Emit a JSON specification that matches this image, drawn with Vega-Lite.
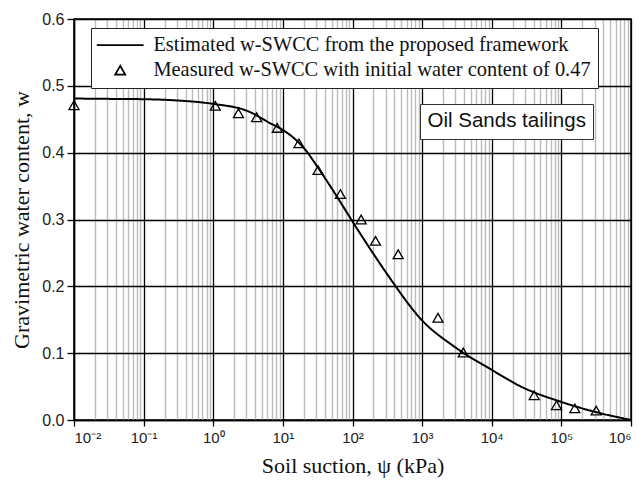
{
  "$schema": "https://vega.github.io/schema/vega-lite/v6.json",
  "width": 557,
  "height": 401,
  "autosize": {"type": "none"},
  "padding": {"left": 74, "top": 19, "right": 10, "bottom": 66},
  "background": "white",
  "config": {
    "view": {"stroke": "black", "strokeWidth": 1.5},
    "axis": {"labelColor": "#222222", "titleColor": "#111111", "tickColor": "black", "domainColor": "black"}
  },
  "datasets": {
    "curve": [
      {"psi": 0.01, "w": 0.481, "sample": "Oil Sands tailings"},
      {"psi": 0.0316, "w": 0.4805, "sample": "Oil Sands tailings"},
      {"psi": 0.1, "w": 0.480, "sample": "Oil Sands tailings"},
      {"psi": 0.316, "w": 0.478, "sample": "Oil Sands tailings"},
      {"psi": 1, "w": 0.473, "sample": "Oil Sands tailings"},
      {"psi": 3.16, "w": 0.462, "sample": "Oil Sands tailings"},
      {"psi": 6.6, "w": 0.444, "sample": "Oil Sands tailings"},
      {"psi": 10, "w": 0.434, "sample": "Oil Sands tailings"},
      {"psi": 20, "w": 0.407, "sample": "Oil Sands tailings"},
      {"psi": 34.7, "w": 0.372, "sample": "Oil Sands tailings"},
      {"psi": 60, "w": 0.334, "sample": "Oil Sands tailings"},
      {"psi": 100, "w": 0.297, "sample": "Oil Sands tailings"},
      {"psi": 182, "w": 0.255, "sample": "Oil Sands tailings"},
      {"psi": 316, "w": 0.218, "sample": "Oil Sands tailings"},
      {"psi": 1000, "w": 0.149, "sample": "Oil Sands tailings"},
      {"psi": 2880, "w": 0.110, "sample": "Oil Sands tailings"},
      {"psi": 10000, "w": 0.075, "sample": "Oil Sands tailings"},
      {"psi": 26300, "w": 0.050, "sample": "Oil Sands tailings"},
      {"psi": 100000, "w": 0.027, "sample": "Oil Sands tailings"},
      {"psi": 240000, "w": 0.015, "sample": "Oil Sands tailings"},
      {"psi": 1000000, "w": 0.0, "sample": "Oil Sands tailings"}
    ],
    "measured": [
      {"psi": 0.01, "w": 0.471, "series": "Measured w-SWCC with initial water content of 0.47"},
      {"psi": 1.07, "w": 0.470, "series": "Measured w-SWCC with initial water content of 0.47"},
      {"psi": 2.3, "w": 0.459, "series": "Measured w-SWCC with initial water content of 0.47"},
      {"psi": 4.2, "w": 0.453, "series": "Measured w-SWCC with initial water content of 0.47"},
      {"psi": 8.3, "w": 0.437, "series": "Measured w-SWCC with initial water content of 0.47"},
      {"psi": 17, "w": 0.414, "series": "Measured w-SWCC with initial water content of 0.47"},
      {"psi": 32, "w": 0.374, "series": "Measured w-SWCC with initial water content of 0.47"},
      {"psi": 67, "w": 0.338, "series": "Measured w-SWCC with initial water content of 0.47"},
      {"psi": 133, "w": 0.300, "series": "Measured w-SWCC with initial water content of 0.47"},
      {"psi": 214, "w": 0.268, "series": "Measured w-SWCC with initial water content of 0.47"},
      {"psi": 453, "w": 0.248, "series": "Measured w-SWCC with initial water content of 0.47"},
      {"psi": 1690, "w": 0.153, "series": "Measured w-SWCC with initial water content of 0.47"},
      {"psi": 3900, "w": 0.101, "series": "Measured w-SWCC with initial water content of 0.47"},
      {"psi": 40700, "w": 0.037, "series": "Measured w-SWCC with initial water content of 0.47"},
      {"psi": 85000, "w": 0.022, "series": "Measured w-SWCC with initial water content of 0.47"},
      {"psi": 156000, "w": 0.0175, "series": "Measured w-SWCC with initial water content of 0.47"},
      {"psi": 316000, "w": 0.014, "series": "Measured w-SWCC with initial water content of 0.47"}
    ]
  },
  "layer": [
    {
      "data": {"name": "curve"},
      "mark": {"type": "line", "color": "black", "strokeWidth": 2, "interpolate": "monotone"},
      "encoding": {
        "x": {
          "field": "psi", "type": "quantitative",
          "scale": {"type": "log", "domain": [0.01, 1000000], "nice": false},
          "axis": {
            "orient": "bottom",
            "values": [0.02,0.03,0.04,0.05,0.06,0.07,0.08,0.09,0.2,0.3,0.4,0.5,0.6,0.7,0.8,0.9,2,3,4,5,6,7,8,9,20,30,40,50,60,70,80,90,200,300,400,500,600,700,800,900,2000,3000,4000,5000,6000,7000,8000,9000,20000,30000,40000,50000,60000,70000,80000,90000,200000,300000,400000,500000,600000,700000,800000,900000],
            "grid": true, "gridColor": "#bcbcbc", "gridWidth": 1.4,
            "labels": false, "ticks": false, "domain": false, "title": null
          }
        },
        "y": {
          "field": "w", "type": "quantitative",
          "scale": {"domain": [0, 0.6], "nice": false},
          "axis": {
            "values": [0, 0.1, 0.2, 0.3, 0.4, 0.5, 0.6],
            "format": ".1f",
            "grid": true, "gridColor": "black", "gridWidth": 1.3,
            "tickSize": 7, "tickWidth": 1.3, "domainWidth": 1.5,
            "labelFont": "Liberation Sans", "labelFontSize": 16, "labelPadding": 3,
            "title": "Gravimetric water content, w",
            "titleFont": "Liberation Serif", "titleFontSize": 22, "titleFontWeight": "normal",
            "titlePadding": 8
          }
        },
        "strokeDash": {
          "field": "sample", "type": "nominal",
          "scale": {"domain": ["Oil Sands tailings"], "range": [[1, 0]]},
          "legend": {
            "orient": "none", "legendX": 346, "legendY": 85,
            "title": null, "labelLimit": 0,
            "labelExpr": "datum.label + ' '",
            "labelFont": "Liberation Sans", "labelFontSize": 20.5, "labelColor": "#111111",
            "symbolOpacity": 0, "symbolSize": 0, "symbolStrokeWidth": 0, "labelOffset": -20,
            "strokeColor": "#333333", "fillColor": "white", "padding": 7
          }
        }
      }
    },
    {
      "data": {"name": "measured"},
      "mark": {"type": "point", "filled": false, "color": "black", "strokeWidth": 1.3, "opacity": 1},
      "encoding": {
        "x": {
          "field": "psi", "type": "quantitative",
          "axis": {
            "orient": "bottom",
            "values": [0.01, 0.1, 1, 10, 100, 1000, 10000, 100000, 1000000],
            "labelExpr": "'10' + ['⁻²','⁻¹','⁰','¹','²','³','⁴','⁵','⁶'][round(log(datum.value)/LN10)+2]",
            "grid": true, "gridColor": "black", "gridWidth": 1.3,
            "tickSize": 6, "tickWidth": 1.3, "domainWidth": 1.5,
            "labelFont": "Liberation Sans", "labelFontSize": 15, "labelPadding": 4,
            "title": "Soil suction, ψ (kPa)",
            "titleFont": "Liberation Serif", "titleFontSize": 22, "titleFontWeight": "normal",
            "titlePadding": 10
          }
        },
        "y": {"field": "w", "type": "quantitative"},
        "shape": {
          "field": "series", "type": "nominal",
          "scale": {
            "domain": ["Estimated w-SWCC from the proposed framework", "Measured w-SWCC with initial water content of 0.47"],
            "range": ["M-4,0H4", "triangle-up"]
          },
          "legend": {
            "orient": "none", "legendX": 17, "legendY": 9,
            "title": null, "direction": "vertical", "labelLimit": 0,
            "labelFont": "Liberation Serif", "labelFontSize": 20.4, "labelColor": "#111111",
            "labelOffset": 23, "symbolOffset": 12, "symbolStrokeColor": "black", "symbolStrokeWidth": 1.8,
            "strokeColor": "#222222", "fillColor": "white", "padding": 7, "rowPadding": 4
          }
        },
        "size": {
          "field": "series", "type": "nominal",
          "scale": {
            "domain": ["Estimated w-SWCC from the proposed framework", "Measured w-SWCC with initial water content of 0.47"],
            "range": [137, 100]
          }
        }
      }
    }
  ],
  "resolve": {"axis": {"x": "independent"}}
}
